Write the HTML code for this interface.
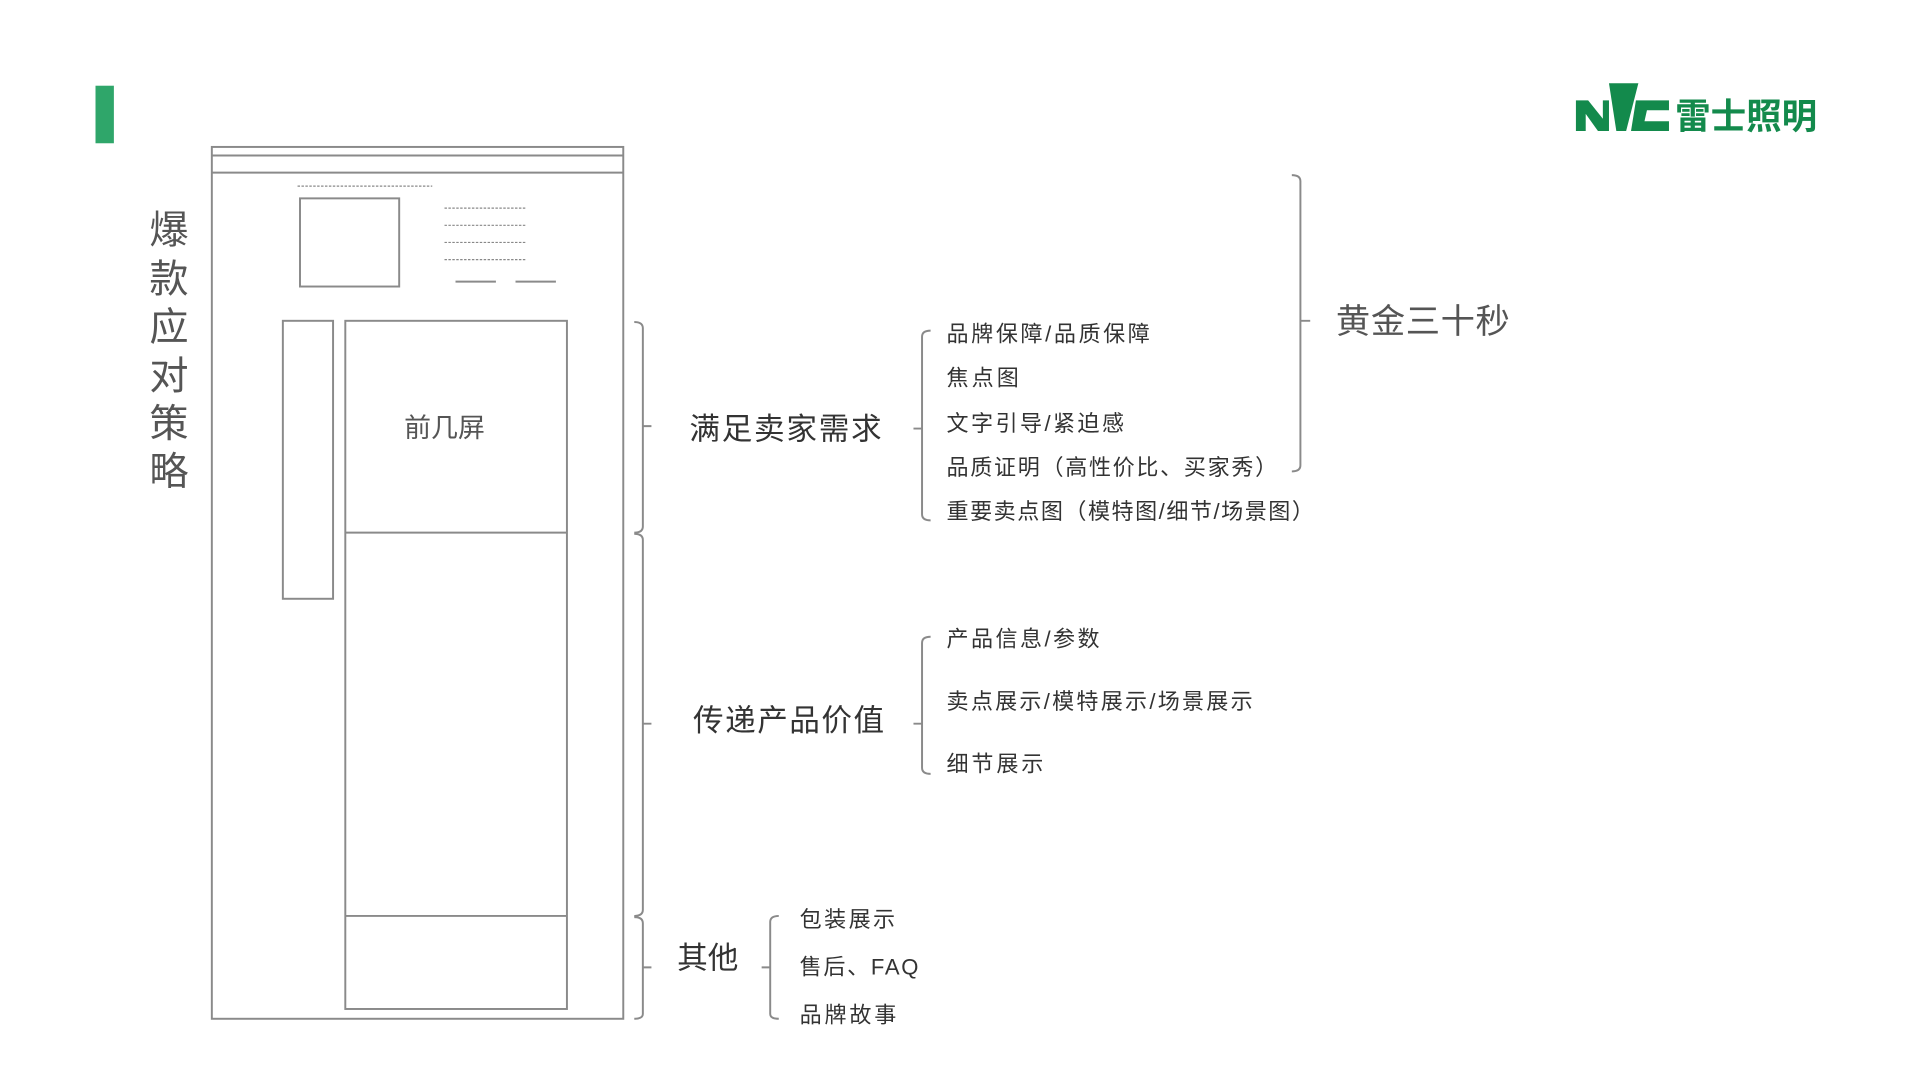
<!DOCTYPE html>
<html><head><meta charset="utf-8"><style>
html,body{margin:0;padding:0;background:#fff;}
svg{display:block;}
text{font-family:"Liberation Sans","Noto Sans CJK SC",sans-serif;fill:#333;}
</style></head><body>
<svg width="1920" height="1080" viewBox="0 0 1568 882" preserveAspectRatio="none" xmlns="http://www.w3.org/2000/svg">
<rect x="0" y="0" width="1568" height="882" fill="#fff"/>
<rect x="78" y="70" width="15" height="47" fill="#2fa66a"/>
<g fill="none" stroke="#8a8a8a" stroke-width="1.6">
<rect x="173" y="120" width="336" height="712"/>
<line x1="173" y1="127" x2="509" y2="127"/>
<line x1="173" y1="141" x2="509" y2="141"/>
<rect x="245" y="162" width="81" height="72"/>
<rect x="231" y="262" width="41" height="227"/>
<rect x="282" y="262" width="181" height="562"/>
<line x1="282" y1="435" x2="463" y2="435"/>
<line x1="282" y1="748" x2="463" y2="748"/>
<line x1="372" y1="230" x2="405" y2="230"/>
<line x1="421" y1="230" x2="454" y2="230"/>
</g>
<g stroke="#888" stroke-width="1" stroke-dasharray="2,1.2">
<line x1="243" y1="152" x2="353" y2="152"/>
<line x1="363" y1="170" x2="430" y2="170"/>
<line x1="363" y1="184" x2="430" y2="184"/>
<line x1="363" y1="198" x2="430" y2="198"/>
<line x1="363" y1="212" x2="430" y2="212"/>
</g>
<g fill="none" stroke="#8a8a8a" stroke-width="1.6">
<path d="M518 263 Q525 263 525 268 L525 430 Q525 435 518 435 M525 348 L532 348"/>
<path d="M518 436 Q525 436 525 441 L525 743 Q525 748 518 748 M525 591 L532 591"/>
<path d="M518 749 Q525 749 525 754 L525 828 Q525 832 518 832 M525 790 L532 790"/>
<path d="M760 270 Q753 270 753 275 L753 420 Q753 425 760 425 M753 350 L746 350"/>
<path d="M760 520 Q753 520 753 525 L753 627 Q753 632 760 632 M753 591 L746 591"/>
<path d="M636 748 Q629 748 629 753 L629 828 Q629 832 636 832 M629 790 L622 790"/>
<path d="M1055 143 Q1062 143 1062 148 L1062 380 Q1062 385 1055 385 M1062 262 L1070 262"/>
</g>
<g font-size="32">
<text x="122" y="199" style="fill:#555">爆</text>
<text x="122" y="239" style="fill:#555">款</text>
<text x="122" y="278" style="fill:#555">应</text>
<text x="122" y="318" style="fill:#555">对</text>
<text x="122" y="357" style="fill:#555">策</text>
<text x="122" y="396" style="fill:#555">略</text>
</g>
<text x="363" y="357" font-size="22" text-anchor="middle" style="fill:#555">前几屏</text>
<text x="563" y="359" font-size="25" textLength="157">满足卖家需求</text>
<text x="566" y="597" font-size="25" textLength="156">传递产品价值</text>
<text x="553" y="791" font-size="25">其他</text>
<g font-size="18">
<text x="773" y="279" textLength="166">品牌保障/品质保障</text>
<text x="773" y="315" textLength="59">焦点图</text>
<text x="773" y="352" textLength="145">文字引导/紧迫感</text>
<text x="773" y="388" textLength="270">品质证明（高性价比、买家秀）</text>
<text x="773" y="424" textLength="300">重要卖点图（模特图/细节/场景图）</text>
<text x="773" y="528" textLength="125">产品信息/参数</text>
<text x="773" y="579" textLength="250">卖点展示/模特展示/场景展示</text>
<text x="773" y="630" textLength="79">细节展示</text>
<text x="653" y="757" textLength="78">包装展示</text>
<text x="653" y="796" textLength="97">售后、FAQ</text>
<text x="653" y="835" textLength="79">品牌故事</text>
</g>
<text x="1091" y="272" font-size="28" style="fill:#555" textLength="142">黄金三十秒</text>
<g fill="#138a4c">
<polygon points="1287,82 1297,82 1309,97 1309,82 1314,82 1314,107 1305,107 1295,93 1295,107 1287,107"/>
<polygon points="1314,68 1338,68 1328,107 1320,107"/>
<polygon points="1336,82 1363,82 1363,90 1345,90 1343,99 1363,99 1363,107 1332,107"/>
</g>
<text x="1368" y="105" font-size="29" font-weight="bold" style="fill:#138a4c">雷士照明</text>
</svg>
</body></html>
